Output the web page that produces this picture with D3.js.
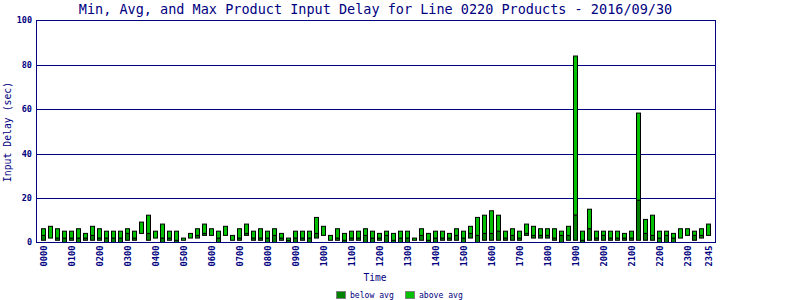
<!DOCTYPE html>
<html>
<head>
<meta charset="utf-8">
<script src="https://cdn.jsdelivr.net/npm/d3@7"></script>
<style>
  body { margin: 0; background: #fff; }
  text { font-family: "DejaVu Sans Mono", "Liberation Mono", monospace; fill: #000080; }
</style>
</head>
<body>
<div id="main"></div>
<script>
// 15 minute slots
const times = [
  "0000","0015","0030","0045","0100","0115","0130","0145","0200","0215","0230","0245",
  "0300","0315","0330","0345","0400","0415","0430","0445","0500","0515","0530","0545",
  "0600","0615","0630","0645","0700","0715","0730","0745","0800","0815","0830","0845",
  "0900","0915","0930","0945","1000","1015","1030","1045","1100","1115","1130","1145",
  "1200","1215","1230","1245","1300","1315","1330","1345","1400","1415","1430","1445",
  "1500","1515","1530","1545","1600","1615","1630","1645","1700","1715","1730","1745",
  "1800","1815","1830","1845","1900","1915","1930","1945","2000","2015","2030","2045",
  "2100","2115","2130","2145","2200","2215","2230","2245","2300","2315","2330","2345"
];
const minVals = [
  1,2,1,0,1,0,1,1,1,0,0,0, 1,1,4.1,1,2,0,1,0,1,2,2,3.2,
  3.2,0,3.2,1,1,3.2,1,1,0,0,1,0, 0,1,0,2,3.2,1,1,0,1,1,0,0,
  1,0,0,0,0,1,1,0,0,1,1,1, 0,2,0,1,1,1,1,1,1,3.2,2,2,
  2,1,0,1,1,0,1,1,1,1,1,1, 1,1,1,1,0,0,0,2,3.2,1,2,3.2
];
const avgVals = [
  3.2,2,2,2,2,2,2,3.2,2,2,2,2, 4.1,2,4.1,4.1,2,2,2,1,1,2,3.2,4.1,
  3.2,2,3.2,1,2,4.1,2,2,2,3.2,2,1, 2,2,2,4.1,3.2,1,2,1,2,2,3.2,2,
  2,3.2,1,2,2,1,3.2,1,2,2,2,3.2, 2,4.1,3.2,4.1,4.1,5.1,2,3.2,2,4.1,3.2,3.2,
  3.2,2,3.2,3.2,12.4,1,6.2,2,3.2,2,2,2, 2,19.1,4.1,3.2,2,3.2,2,2,3.2,3.2,3.2,3.2
];
const maxVals = [
  6.2,7.3,6.2,5.1,5.1,6.2,4.1,7.3,6.2,5.1,5.1,5.1, 6.2,5.1,9.2,12.3,5.1,8.3,5.1,5.1,2,4.1,6.2,8.3,
  6.2,5.1,7.3,3.2,6.2,8.3,5.1,6.2,5.1,6.2,4.1,2, 5.1,5.1,5.1,11.3,7.3,3.2,6.2,4.1,5.1,5.1,6.2,5.1,
  4.1,5.1,4.1,5.1,5.1,2,6.2,4.1,5.1,5.1,4.1,6.2, 5.1,7.3,11.3,12.3,14.3,12.3,5.1,6.2,5.1,8.3,7.3,6.2,
  6.2,6.2,5.1,7.3,84,5.1,15,5.1,5.1,5.1,5.1,4.1, 5.1,58.3,10.4,12.3,5.1,5.1,4.1,6.2,6.2,5.1,6.2,8.3
];
const xTickLabels = [
  "0000","0100","0200","0300","0400","0500","0600","0700","0800","0900","1000","1100",
  "1200","1300","1400","1500","1600","1700","1800","1900","2000","2100","2200","2300","2345"
];
const yTicks = [0, 20, 40, 60, 80, 100];
const legendLabels = ["below avg", "above avg"];

function main() {
  const svgWidth = 800;
  const svgHeight = 300;
  const plotLeft = 36;
  const plotRight = 715;
  const plotTop = 20;
  const plotBottom = 242;

  const navy = "#000080";
  const colorBars = ["#008000", "#00c000"];

  var svg = d3
    .select("#main")
    .append("svg")
    .attr("width", svgWidth)
    .attr("height", svgHeight);

  const data = times.map((t, i) => ({ t: t, min: minVals[i], avg: avgVals[i], max: maxVals[i] }));

  // scales
  var scaleX = d3.scaleBand()
    .domain(times)
    .range([plotLeft, plotRight])
    .paddingInner(0.43)
    .paddingOuter(0.715);

  var scaleY = d3.scaleLinear()
    .domain([0, 100])
    .range([plotBottom + 0.5, plotTop + 0.5]);

  const bw = Math.round(scaleX.bandwidth());
  const px = (d) => Math.round(scaleX(d.t)) + 0.5;

  // grid lines
  svg.append("g")
    .selectAll("line")
    .data(yTicks.filter(v => v > 0 && v < 100))
    .enter()
    .append("line")
    .attr("x1", plotLeft)
    .attr("x2", plotRight)
    .attr("y1", d => Math.round(scaleY(d)) + 0.5)
    .attr("y2", d => Math.round(scaleY(d)) + 0.5)
    .attr("stroke", navy)
    .attr("stroke-width", 1);

  // bars: min->avg (dark), avg->max (light)
  var bars = svg.append("g");
  bars.selectAll("rect.below")
    .data(data.filter(d => d.avg > d.min))
    .enter()
    .append("rect")
    .attr("class", "below")
    .attr("x", px)
    .attr("width", bw)
    .attr("y", d => scaleY(d.avg))
    .attr("height", d => scaleY(d.min) - scaleY(d.avg))
    .attr("fill", colorBars[0])
    .attr("stroke", "#000")
    .attr("stroke-width", 1);
  bars.selectAll("rect.above")
    .data(data)
    .enter()
    .append("rect")
    .attr("class", "above")
    .attr("x", px)
    .attr("width", bw)
    .attr("y", d => scaleY(d.max))
    .attr("height", d => scaleY(d.avg) - scaleY(d.max))
    .attr("fill", colorBars[1])
    .attr("stroke", "#000")
    .attr("stroke-width", 1);

  // frame
  svg.append("rect")
    .attr("x", plotLeft + 0.5)
    .attr("y", plotTop + 0.5)
    .attr("width", plotRight - plotLeft)
    .attr("height", plotBottom - plotTop)
    .attr("fill", "none")
    .attr("stroke", navy)
    .attr("stroke-width", 1);

  // y tick labels
  svg.append("g")
    .selectAll("text")
    .data(yTicks)
    .enter()
    .append("text")
    .attr("x", 32)
    .attr("y", d => scaleY(d))
    .attr("dy", "0.35em")
    .attr("text-anchor", "end")
    .style("font-size", "8.5px")
    .style("font-weight", "bold")
    .text(d => d);

  // x tick labels (rotated)
  svg.append("g")
    .selectAll("text")
    .data(xTickLabels)
    .enter()
    .append("text")
    .attr("transform", d => "translate(" + (scaleX(d) + scaleX.bandwidth() / 2 + 0.5) + "," + (plotBottom + 3.5) + ") rotate(-90)")
    .attr("dy", "0.35em")
    .attr("text-anchor", "end")
    .style("font-size", "8.7px")
    .style("font-weight", "bold")
    .text(d => d);

  // title + axis labels
  svg.append("text")
    .attr("x", (plotLeft + plotRight) / 2)
    .attr("y", 14)
    .attr("text-anchor", "middle")
    .style("font-size", "13.5px")
    .text("Min, Avg, and Max Product Input Delay for Line 0220 Products - 2016/09/30");

  svg.append("text")
    .attr("transform", "translate(11," + 132 + ") rotate(-90)")
    .attr("text-anchor", "middle")
    .style("font-size", "9.8px")
    .text("Input Delay (sec)");

  svg.append("text")
    .attr("x", 375)
    .attr("y", 281)
    .attr("text-anchor", "middle")
    .style("font-size", "9.6px")
    .text("Time");

  // legend
  const legX = [336, 405];
  var legend = svg.append("g");
  legend.selectAll("rect")
    .data(legendLabels)
    .enter()
    .append("rect")
    .attr("x", (d, i) => legX[i] + 0.5)
    .attr("y", 291.5)
    .attr("width", 9)
    .attr("height", 7)
    .attr("fill", (d, i) => colorBars[i])
    .attr("stroke", "#808080");
  legend.selectAll("text")
    .data(legendLabels)
    .enter()
    .append("text")
    .attr("x", (d, i) => legX[i] + 14)
    .attr("y", 298)
    .style("font-size", "8.1px")
    .text(d => d);
}
main();
</script>
</body>
</html>
